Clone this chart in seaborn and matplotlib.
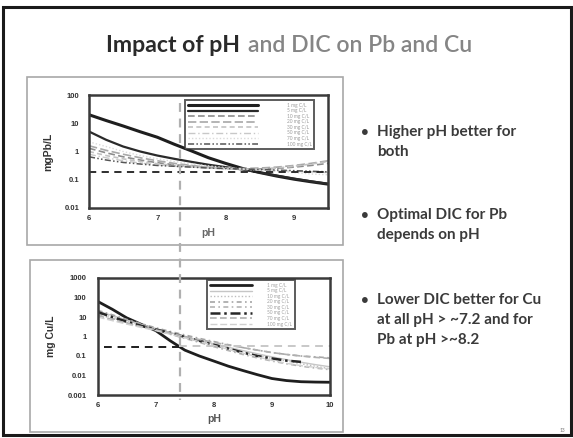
import numpy as np
import pandas as pd
import matplotlib
matplotlib.use("Agg")
import matplotlib.pyplot as plt
import seaborn as sns
from matplotlib.patches import Rectangle
from matplotlib.lines import Line2D

# ---------------- data ----------------
pb_ph = [6.0, 6.25, 6.5, 6.75, 7.0, 7.25, 7.5, 7.75, 8.0, 8.25, 8.5, 8.75, 9.0, 9.25, 9.5]
pb_labels = ["1 mg C/L", "5 mg C/L", "10 mg C/L", "20 mg C/L", "30 mg C/L",
             "50 mg C/L", "70 mg C/L", "100 mg C/L"]
pb_s1 = [20, 12.5, 8, 5, 3.2, 1.8, 1.05, 0.6, 0.38, 0.25, 0.18, 0.135, 0.105, 0.085, 0.07]
pb_s2 = [5.1, 2.6, 1.5, 1.0, 0.72, 0.55, 0.43, 0.34, 0.28, 0.23, 0.18, 0.14, 0.11, 0.088, 0.072]
pb_s3 = [1.3, 0.9, 0.65, 0.5, 0.4, 0.34, 0.3, 0.27, 0.25, 0.24, 0.24, 0.25, 0.28, 0.32, 0.38]
pb_s4 = [1.6, 1.1, 0.8, 0.6, 0.47, 0.38, 0.32, 0.28, 0.26, 0.25, 0.26, 0.28, 0.32, 0.38, 0.47]
pb_s5 = [1.0, 0.72, 0.55, 0.44, 0.37, 0.32, 0.29, 0.27, 0.25, 0.24, 0.24, 0.26, 0.3, 0.36, 0.44]
pb_s6 = [0.8, 0.6, 0.47, 0.39, 0.34, 0.3, 0.28, 0.26, 0.24, 0.23, 0.22, 0.21, 0.2, 0.19, 0.18]
pb_s7 = [2.2, 1.5, 1.0, 0.72, 0.55, 0.44, 0.36, 0.31, 0.27, 0.24, 0.22, 0.2, 0.18, 0.16, 0.15]
pb_s8 = [0.65, 0.5, 0.41, 0.36, 0.32, 0.3, 0.28, 0.26, 0.25, 0.24, 0.23, 0.22, 0.21, 0.2, 0.19]
pb_ref_ph = [6.0, 9.5]
pb_ref_val = [0.19, 0.19]

cu_ph = [6.0, 6.25, 6.5, 6.75, 7.0, 7.25, 7.5, 7.75, 8.0, 8.25, 8.5, 8.75, 9.0, 9.25, 9.5, 9.75, 10.0]
cu_labels = ["1 mg C/L", "5 mg C/L", "10 mg C/L", "20 mg C/L", "30 mg C/L",
             "50 mg C/L", "70 mg C/L", "100 mg C/L"]
cu_s1 = [63, 25, 9, 4.2, 2.0, 0.6, 0.2, 0.1, 0.055, 0.03, 0.018, 0.011, 0.007, 0.0055, 0.0048, 0.0046, 0.0045]
cu_s2 = [20, 12, 7, 4.2, 2.6, 1.6, 1.0, 0.65, 0.42, 0.28, 0.19, 0.13, 0.09, 0.065, 0.048, 0.036, 0.028]
cu_s3 = [16, 10, 6, 3.8, 2.4, 1.5, 0.95, 0.6, 0.38, 0.25, 0.16, 0.11, 0.075, 0.055, 0.04, 0.03, 0.022]
cu_s4 = [22, 13, 7.5, 4.5, 2.8, 1.8, 1.2, 0.8, 0.55, 0.38, 0.27, 0.2, 0.15, 0.12, 0.1, 0.09, 0.08]
cu_s5 = [14, 8.5, 5.2, 3.3, 2.1, 1.3, 0.8, 0.5, 0.3, 0.19, 0.12, 0.08, 0.055, 0.04, 0.03, 0.024, 0.02]
cu_s6 = [18, 10, 5.8, 3.5, 2.3, 1.5, 0.95, 0.6, 0.38, 0.24, 0.15, 0.1, 0.075, 0.058, 0.05, np.nan, np.nan]
cu_s7 = [12, 7.5, 4.8, 3.2, 2.2, 1.5, 1.0, 0.7, 0.5, 0.36, 0.27, 0.2, 0.15, 0.12, 0.1, 0.085, 0.075]
cu_s8 = [10, 6.5, 4.3, 2.9, 2.0, 1.3, 0.85, 0.55, 0.35, 0.22, 0.14, 0.09, 0.06, 0.042, 0.032, 0.026, 0.022]
cu_ref_ph = [6.1, 7.4]
cu_ref_val = [0.3, 0.3]
cu_ref2_ph = [7.4, 10.0]
cu_ref2_val = [0.32, 0.32]

title_a = "Impact of pH"
title_b = "and DIC on Pb and Cu"
bullets = [["Higher pH better for", "both"],
           ["Optimal DIC for Pb", "depends on pH"],
           ["Lower DIC better for Cu", "at all pH > ~7.2 and for", "Pb at pH >~8.2"]]

pb_yticks = [0.01, 0.1, 1, 10, 100]
pb_yticklabels = ["0.01", "0.1", "1", "10", "100"]
pb_xticks = [6, 7, 8, 9]
cu_yticks = [0.001, 0.01, 0.1, 1, 10, 100, 1000]
cu_yticklabels = ["0.001", "0.01", "0.1", "1", "10", "100", "1000"]
cu_xticks = [6, 7, 8, 9, 10]

# ---------------- figure ----------------
sns.set_theme(style="white")
plt.rcParams['font.family'] = ['Lato', 'DejaVu Sans']

W, H = 573, 438
fig = plt.figure(figsize=(W / 100, H / 100), dpi=100)
fig.patch.set_facecolor("white")

def fx(x):
    return x / W

def fy(y):
    return 1 - y / H

# outer slide frame
fig.add_artist(Rectangle((fx(3), fy(435)), fx(571) - fx(3), fy(7) - fy(435),
                         transform=fig.transFigure, fill=False, ec="#1a1a1a", lw=2.2))
# panel boxes
fig.add_artist(Rectangle((fx(27), fy(245)), fx(343) - fx(27), fy(77) - fy(245),
                         transform=fig.transFigure, fill=False, ec="#a8a8a8", lw=1.2))
fig.add_artist(Rectangle((fx(30), fy(432)), fx(343) - fx(30), fy(260) - fy(432),
                         transform=fig.transFigure, fill=False, ec="#a8a8a8", lw=1.2))

# title (two colours, second part placed after the first)
t1 = fig.text(fx(106), fy(46), title_a, fontsize=16.6, fontweight="bold", color="#2a2a2a",
              ha="left", va="center")
fig.canvas.draw()
ext = t1.get_window_extent(renderer=fig.canvas.get_renderer())
fig.text(ext.x1 / W + fx(8), fy(46), title_b, fontsize=16.6, fontweight="semibold",
         color="#858585", ha="left", va="center")

# bullets
bullet_y = [132, 215, 300]
for by, lines in zip(bullet_y, bullets):
    fig.text(fx(365), fy(by), "\u2022", fontsize=9.5, color="#3a3a3a", ha="center", va="center",
             fontweight="bold")
    for i, ln in enumerate(lines):
        fig.text(fx(377), fy(by + i * 20), ln, fontsize=11, color="#3a3a3a",
                 fontweight="bold", ha="left", va="center")

fig.text(fx(562), fy(430), "13", fontsize=3.5, color="#777", ha="center", va="center")

tickfont = dict(family="Liberation Sans", weight="bold", size=5.5)


def style_axes(ax):
    for s in ax.spines.values():
        s.set_color("#3a3a3a")
        s.set_linewidth(1.8)
    ax.tick_params(axis="both", which="major", direction="in", length=2.5, width=0.8,
                   colors="#555", labelcolor="#333")
    ax.minorticks_off()
    ax.grid(False)


# ---------- top panel (Pb) ----------
ax1 = fig.add_axes([fx(89), fy(208), fx(328) - fx(89), fy(95) - fy(208)])
pb_series = [pb_s1, pb_s2, pb_s3, pb_s4, pb_s5, pb_s6, pb_s7, pb_s8]
pb_styles = [
    dict(color="#1e1e1e", lw=2.2, ls="-"),
    dict(color="#2a2a2a", lw=1.6, ls="-"),
    dict(color="#8c8c8c", lw=1.2, ls=(0, (4, 2))),
    dict(color="#a8a8a8", lw=1.2, ls=(0, (5, 2))),
    dict(color="#c2c2c2", lw=1.2, ls=(0, (3, 2))),
    dict(color="#c8c8c8", lw=1.0, ls=(0, (5, 2, 1, 2))),
    dict(color="#dadada", lw=1.0, ls=(0, (1, 1.5))),
    dict(color="#555555", lw=1.1, ls=(0, (4, 1.5, 1, 1.5, 1, 1.5))),
]
for vals, lab, st in zip(pb_series, pb_labels, pb_styles):
    d = pd.DataFrame({"pH": pb_ph, "v": vals})
    sns.lineplot(data=d, x="pH", y="v", ax=ax1, label=lab, color=st["color"],
                 linewidth=st["lw"], linestyle=st["ls"], legend=False)
ref = pd.DataFrame({"pH": pb_ref_ph, "v": pb_ref_val})
sns.lineplot(data=ref, x="pH", y="v", ax=ax1, color="#1e1e1e", linewidth=1.3,
             linestyle=(0, (4, 3)), legend=False)
ax1.set_yscale("log")
ax1.set_xlim(6, 9.5)
ax1.set_ylim(0.01, 100)
ax1.set_yticks(pb_yticks)
ax1.set_yticklabels(pb_yticklabels, fontdict=tickfont)
ax1.set_xticks(pb_xticks)
ax1.set_xticklabels([str(t) for t in pb_xticks], fontdict=tickfont)
style_axes(ax1)
ax1.tick_params(axis="y", pad=7)
ax1.tick_params(axis="x", pad=5)
ax1.set_xlabel("pH", fontsize=7.5, fontweight="bold", color="#666", family="Liberation Sans",
               labelpad=4)
ax1.set_ylabel("mgPb/L", fontsize=7.5, fontweight="bold", color="#333",
               family="Liberation Sans", labelpad=8)
h1 = [Line2D([0], [0], color=st["color"], lw=st["lw"], ls=st["ls"]) for st in pb_styles]
leg1 = ax1.legend(h1, pb_labels, loc="upper left", bbox_to_anchor=(fx(185), fy(100)),
                  bbox_transform=fig.transFigure, fontsize=3.4, frameon=True,
                  fancybox=False, handlelength=15, handletextpad=6.0, labelspacing=0.12,
                  borderpad=0.55, borderaxespad=0)
leg1.get_frame().set_edgecolor("#333")
leg1.get_frame().set_linewidth(1.4)
for t in leg1.get_texts():
    t.set_color("#9a9a9a")

# ---------- bottom panel (Cu) ----------
ax2 = fig.add_axes([fx(97.7), fy(395), fx(330) - fx(97.7), fy(278) - fy(395)])
cu_series = [cu_s1, cu_s2, cu_s3, cu_s4, cu_s5, cu_s6, cu_s7, cu_s8]
cu_styles = [
    dict(color="#1e1e1e", lw=2.0, ls="-"),
    dict(color="#c6c6c6", lw=1.0, ls="-"),
    dict(color="#bdbdbd", lw=1.0, ls=(0, (1, 1.5))),
    dict(color="#a6a6a6", lw=1.2, ls=(0, (3, 2, 1, 2))),
    dict(color="#b4b4b4", lw=1.2, ls=(0, (3, 2, 1, 2))),
    dict(color="#262626", lw=1.8, ls=(0, (4, 1.5, 1, 1.5))),
    dict(color="#b0b0b0", lw=1.2, ls=(0, (4, 2))),
    dict(color="#d0d0d0", lw=1.0, ls=(0, (5, 2))),
]
for vals, lab, st in zip(cu_series, cu_labels, cu_styles):
    d = pd.DataFrame({"pH": cu_ph, "v": vals})
    sns.lineplot(data=d, x="pH", y="v", ax=ax2, label=lab, color=st["color"],
                 linewidth=st["lw"], linestyle=st["ls"], legend=False)
ref = pd.DataFrame({"pH": cu_ref_ph, "v": cu_ref_val})
sns.lineplot(data=ref, x="pH", y="v", ax=ax2, color="#1e1e1e", linewidth=1.4,
             linestyle=(0, (4, 3)), legend=False)
ref2 = pd.DataFrame({"pH": cu_ref2_ph, "v": cu_ref2_val})
sns.lineplot(data=ref2, x="pH", y="v", ax=ax2, color="#c8c8c8", linewidth=1.4,
             linestyle=(0, (4, 3)), legend=False)
ax2.set_yscale("log")
ax2.set_xlim(6, 10)
ax2.set_ylim(0.001, 1000)
ax2.set_yticks(cu_yticks)
ax2.set_yticklabels(cu_yticklabels, fontdict=tickfont)
ax2.set_xticks(cu_xticks)
ax2.set_xticklabels([str(t) for t in cu_xticks], fontdict=tickfont)
style_axes(ax2)
ax2.tick_params(axis="y", pad=8)
ax2.tick_params(axis="x", pad=5)
ax2.set_xlabel("pH", fontsize=7.5, fontweight="bold", color="#555", family="Liberation Sans",
               labelpad=4)
ax2.set_ylabel("mg Cu/L", fontsize=7.5, fontweight="bold", color="#333",
               family="Liberation Sans", labelpad=8)
h2 = [Line2D([0], [0], color=st["color"], lw=st["lw"], ls=st["ls"]) for st in cu_styles]
leg2 = ax2.legend(h2, cu_labels, loc="upper left", bbox_to_anchor=(fx(207), fy(280)),
                  bbox_transform=fig.transFigure, fontsize=3.4, frameon=True,
                  fancybox=False, handlelength=9, handletextpad=3.2, labelspacing=0.12,
                  borderpad=0.55, borderaxespad=0)
leg2.get_frame().set_edgecolor("#333")
leg2.get_frame().set_linewidth(1.4)
for t in leg2.get_texts():
    t.set_color("#a0a0a0")

# vertical annotation line crossing both panels
fig.add_artist(Line2D([fx(180), fx(180)], [fy(103), fy(400)], transform=fig.transFigure,
                      color="#b0b0b0", lw=1.6, ls=(0, (4, 3)), zorder=5))

fig.savefig("out.png", dpi=100, facecolor="white")
